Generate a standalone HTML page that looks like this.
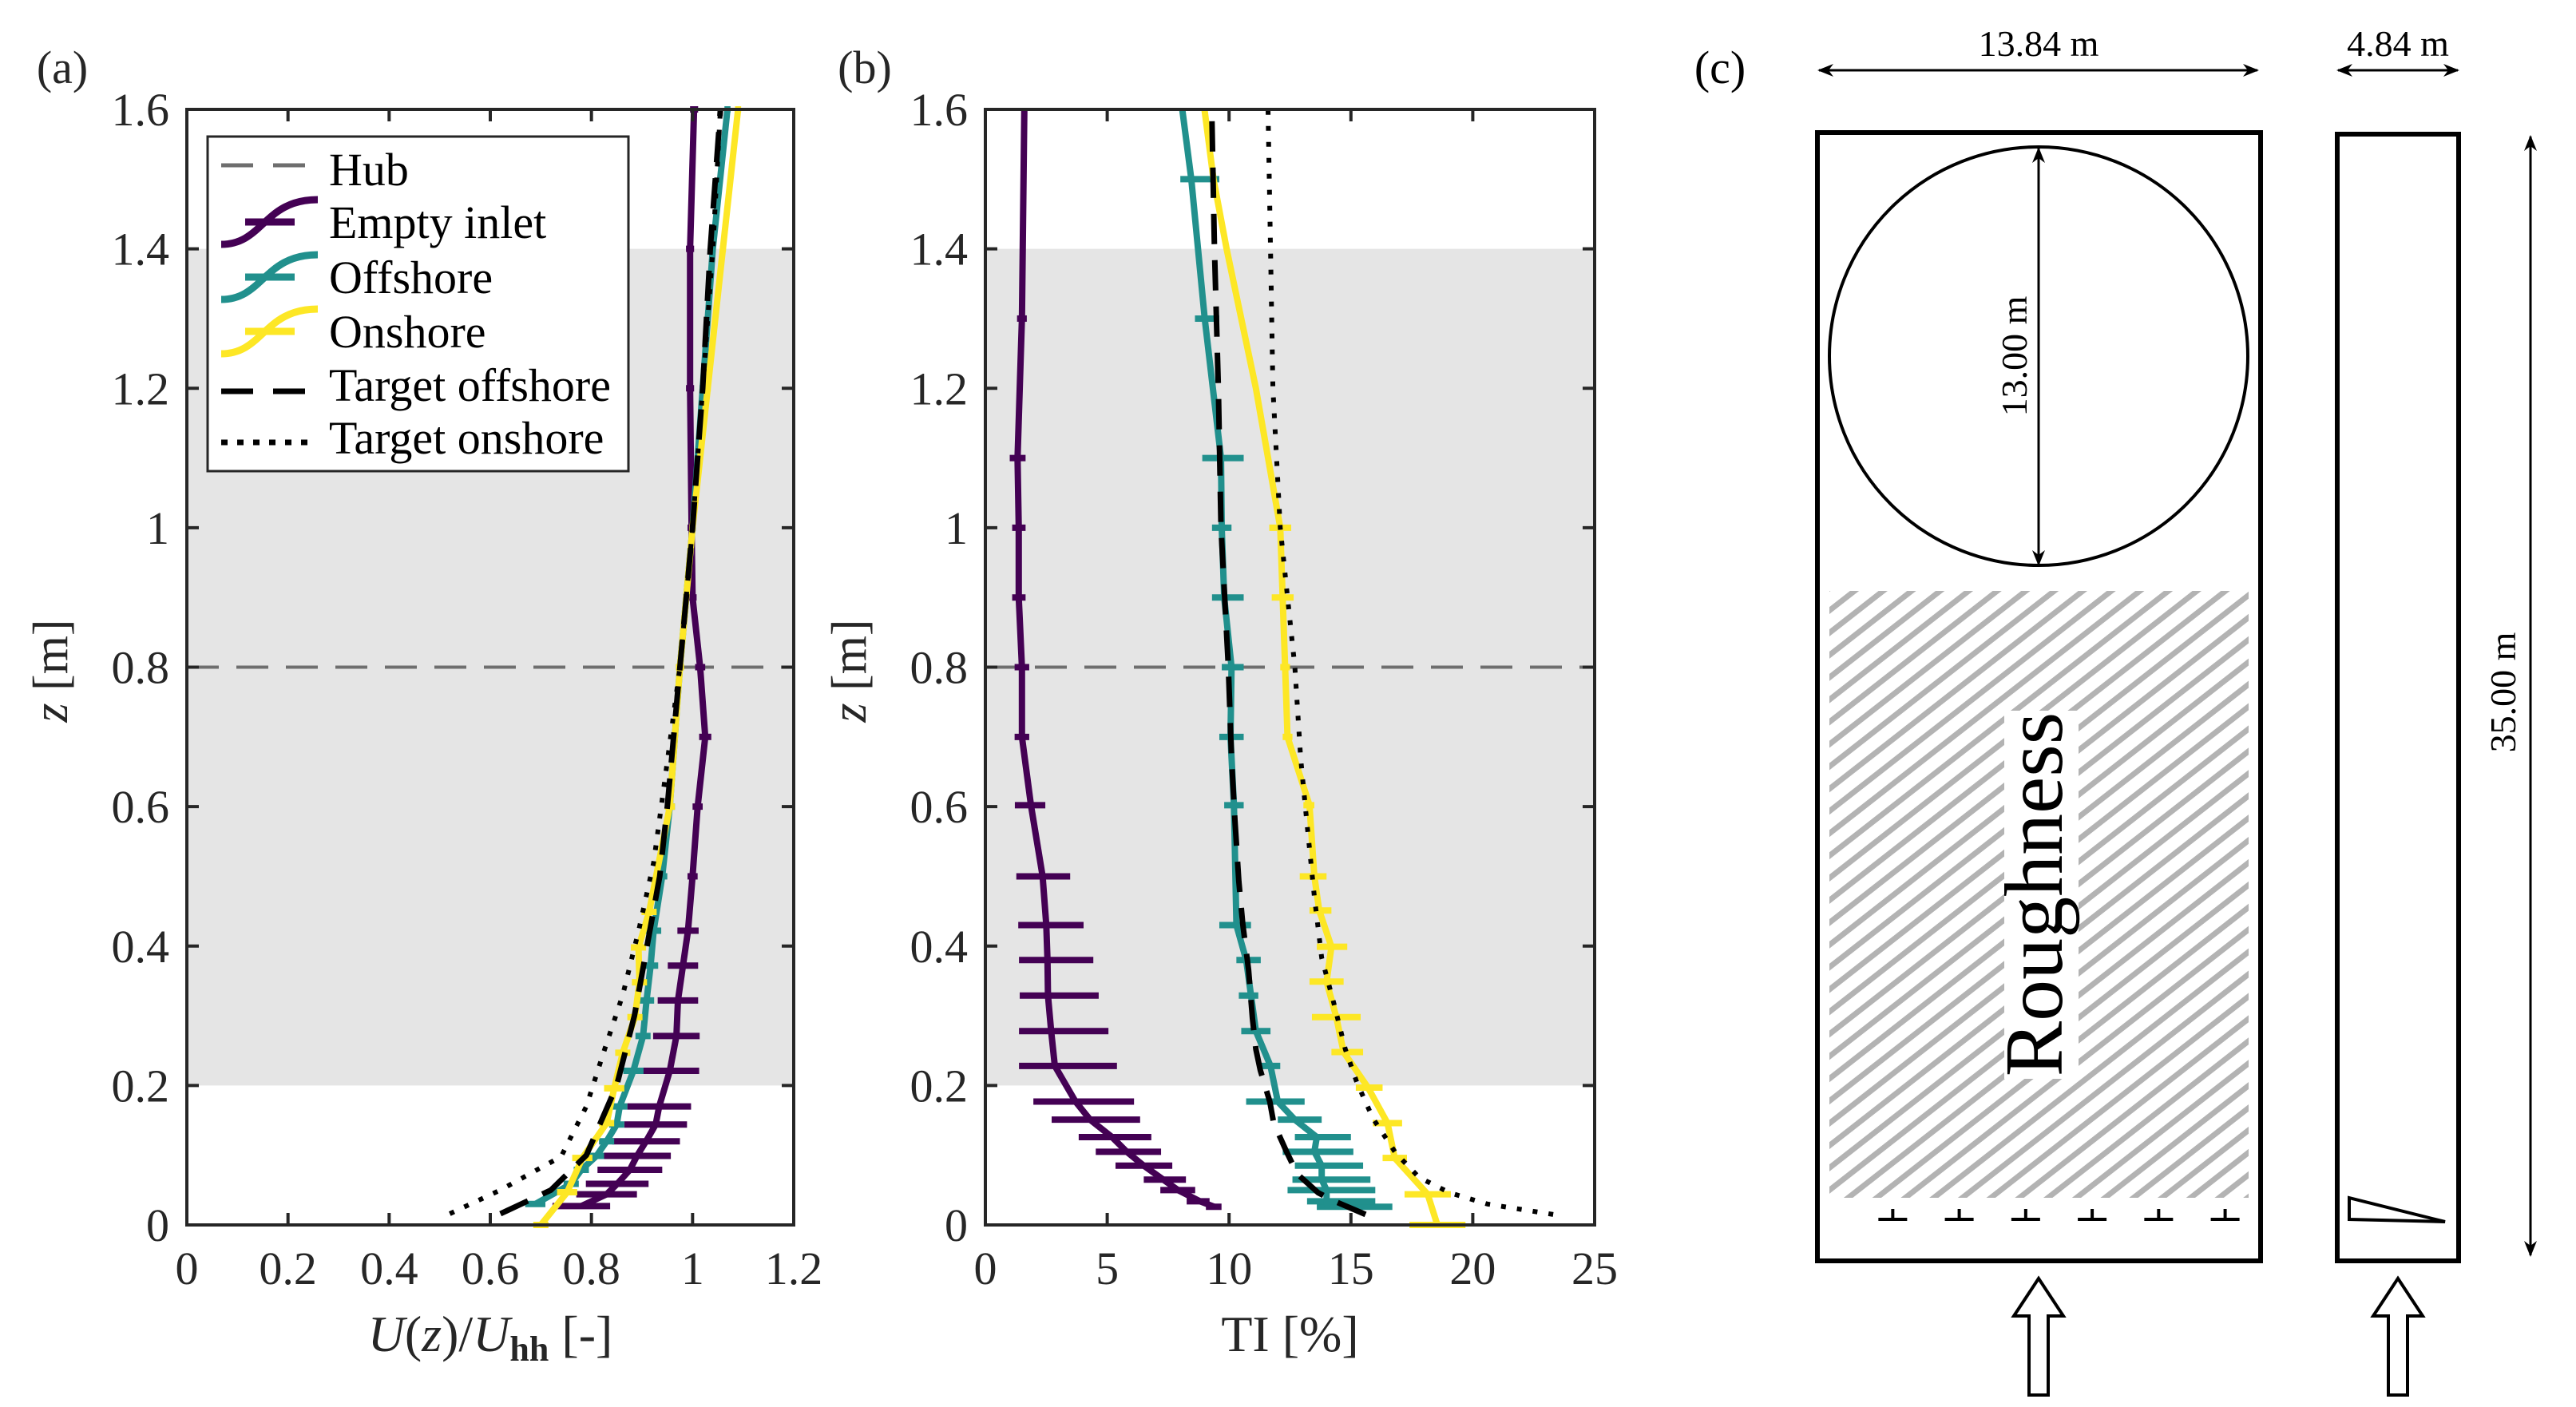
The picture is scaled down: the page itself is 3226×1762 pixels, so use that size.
<!DOCTYPE html>
<html><head><meta charset="utf-8"><style>
html,body{margin:0;padding:0;background:#fff;}
svg, svg text{font-family:"Liberation Serif","DejaVu Serif",serif;}
</style></head><body>
<svg id="fig" width="3226" height="1757" viewBox="0 0 3226 1757" xmlns="http://www.w3.org/2000/svg" font-family="Liberation Serif, DejaVu Serif, serif">
<defs>
<pattern id="hatch" patternUnits="userSpaceOnUse" width="22" height="22" patternTransform="rotate(-38)">
<rect x="0" y="0" width="22" height="22" fill="#fff"/>
<line x1="0" y1="11" x2="22" y2="11" stroke="#b3b3b3" stroke-width="7"/>
</pattern>
<marker id="ah" viewBox="0 0 20 20" refX="18" refY="10" markerWidth="20" markerHeight="20" markerUnits="userSpaceOnUse" orient="auto-start-reverse">
<path d="M0,2 L20,10 L0,18 L6,10 Z" fill="#000"/>
</marker>
</defs>
<g id="pa"></g>
<g id="pb"></g>
<g id="pc">
<text x="2154" y="104" font-size="58" text-anchor="middle">(c)</text>
<line x1="2278" y1="88" x2="2827" y2="88" stroke="#000" stroke-width="3" marker-start="url(#ah)" marker-end="url(#ah)"/>
<text x="2553" y="70" font-size="46" text-anchor="middle">13.84 m</text>
<line x1="2928" y1="88" x2="3078" y2="88" stroke="#000" stroke-width="3" marker-start="url(#ah)" marker-end="url(#ah)"/>
<text x="3003" y="70" font-size="46" text-anchor="middle">4.84 m</text>
<rect x="2276" y="166" width="555" height="1413" fill="#fff" stroke="#000" stroke-width="6"/>
<rect x="2291" y="740" width="525" height="760" fill="url(#hatch)"/>
<rect x="2510" y="890" width="93" height="461" fill="#fff"/>
<text transform="translate(2582,1120) rotate(-90)" font-size="104" text-anchor="middle">Roughness</text>
<circle cx="2553" cy="446" r="262" fill="none" stroke="#000" stroke-width="4"/>
<line x1="2553" y1="186" x2="2553" y2="707" stroke="#000" stroke-width="3" marker-start="url(#ah)" marker-end="url(#ah)"/>
<text transform="translate(2538,446) rotate(-90)" font-size="46" text-anchor="middle">13.00 m</text>
<g id="spires"></g>
<path d="M2541,1747 L2541,1648 L2522,1648 L2553,1601 L2584,1648 L2565,1648 L2565,1747 Z" fill="#fff" stroke="#000" stroke-width="4"/>
<rect x="2927" y="168" width="152" height="1411" fill="#fff" stroke="#000" stroke-width="6"/>
<path d="M2942,1500 L2942,1527 L3062,1530 Z" fill="#fff" stroke="#000" stroke-width="4"/>
<path d="M2991,1747 L2991,1648 L2972,1648 L3003,1601 L3034,1648 L3015,1648 L3015,1747 Z" fill="#fff" stroke="#000" stroke-width="4"/>
<line x1="3169" y1="171" x2="3169" y2="1572" stroke="#000" stroke-width="3" marker-start="url(#ah)" marker-end="url(#ah)"/>
<text transform="translate(3150,867) rotate(-90)" font-size="46" text-anchor="middle">35.00 m</text>
</g>
</svg>
<script>
// ---------- Panel (a) data: U(z)/U_hh ----------
const emptyUz = [0.027,0.044,0.059,0.079,0.099,0.120,0.144,0.170,0.221,0.271,0.322,0.372,0.422,0.5,0.6,0.7,0.8,0.9,1.0,1.2,1.4,1.6];
const emptyU  = [0.78,0.83,0.851,0.876,0.89,0.908,0.927,0.934,0.955,0.968,0.971,0.981,0.991,1.0,1.01,1.025,1.015,1.0,0.998,0.995,0.995,1.003];
const emptyUerr=[0.057,0.06,0.062,0.064,0.067,0.067,0.062,0.063,0.058,0.046,0.04,0.03,0.021,0.01,0.01,0.012,0.01,0.008,0.008,0.008,0.008,0.008];
const offUz = [0.03,0.059,0.079,0.099,0.120,0.144,0.170,0.221,0.271,0.322,0.372,0.422,0.5,0.6,0.8,1.0,1.2,1.4,1.6];
const offU  = [0.689,0.76,0.78,0.81,0.83,0.85,0.856,0.883,0.902,0.909,0.917,0.923,0.94,0.955,0.975,1.0,1.02,1.04,1.069];
const offUerr=[0.02,0.015,0.015,0.015,0.015,0.015,0.015,0.02,0.015,0.015,0.015,0.015,0.01,0.01,0.008,0.006,0.006,0.006,0.006];
const onUz = [0.0,0.047,0.096,0.146,0.196,0.247,0.298,0.348,0.398,0.449,0.6,0.8,1.0,1.2,1.4,1.6];
const onU  = [0.70,0.752,0.782,0.83,0.845,0.862,0.886,0.895,0.893,0.914,0.955,0.975,1.0,1.03,1.06,1.09];
const onUerr=[0.015,0.02,0.02,0.015,0.02,0.015,0.015,0.015,0.015,0.015,0.01,0.008,0.006,0.006,0.006,0.006];
const tgtOffUz = [0.016,0.05,0.1,0.2,0.3,0.4,0.5,0.6,0.8,1.0,1.2,1.4,1.6];
const tgtOffU  = [0.62,0.72,0.79,0.85,0.885,0.91,0.935,0.95,0.975,1.0,1.02,1.035,1.055];
const tgtOnUz = [0.016,0.05,0.098,0.17,0.245,0.33,0.424,0.52,0.61,0.8,1.0,1.2,1.4,1.6];
const tgtOnU  = [0.52,0.62,0.74,0.79,0.823,0.862,0.894,0.923,0.94,0.975,1.0,1.02,1.04,1.055];
const xTicksA = [0,0.2,0.4,0.6,0.8,1,1.2];
const xTickLabelsA = ["0","0.2","0.4","0.6","0.8","1","1.2"];
const yTicks = [0,0.2,0.4,0.6,0.8,1,1.2,1.4,1.6];
const yTickLabels = ["0","0.2","0.4","0.6","0.8","1","1.2","1.4","1.6"];
// ---------- Panel (b) data: TI [%] ----------
const emptyTz = [0.026,0.034,0.05,0.065,0.085,0.105,0.126,0.151,0.177,0.228,0.278,0.329,0.38,0.43,0.5,0.602,0.7,0.8,0.9,1.0,1.1,1.3,1.6];
const emptyT  = [9.4,8.8,7.9,7.3,6.5,5.8,5.2,4.3,3.7,2.85,2.7,2.57,2.55,2.5,2.35,1.87,1.5,1.5,1.37,1.37,1.32,1.5,1.6];
const emptyTlo= [9.05,8.26,7.18,6.5,5.34,4.53,3.83,2.72,1.97,1.38,1.38,1.41,1.38,1.35,1.27,1.21,1.2,1.2,1.1,1.1,1.0,1.3,1.6];
const emptyThi= [9.69,9.2,8.61,8.23,7.67,7.21,6.81,6.35,6.1,5.4,5.05,4.65,4.43,4.03,3.48,2.46,1.8,1.8,1.65,1.65,1.65,1.7,1.6];
const offTz = [0.026,0.034,0.05,0.065,0.085,0.105,0.126,0.151,0.177,0.228,0.278,0.329,0.38,0.43,0.602,0.7,0.8,0.9,1.0,1.1,1.3,1.5,1.6];
const offT  = [14.05,14.0,14.0,13.8,13.8,13.5,13.6,12.7,12.0,11.7,11.1,10.9,10.7,10.3,10.2,10.06,10.1,9.8,9.7,9.67,9.0,8.45,8.08];
const offTlo= [13.6,13.2,12.4,12.6,12.7,12.2,12.7,12.0,10.7,11.2,10.5,10.4,10.3,9.6,9.8,9.6,9.7,9.3,9.3,8.9,8.6,8.0,8.08];
const offThi= [16.7,16.0,16.0,15.8,15.5,15.1,15.0,13.8,13.1,12.1,11.7,11.2,11.3,10.9,10.6,10.6,10.6,10.6,10.1,10.6,9.6,9.6,8.08];
const onTz = [0.0,0.044,0.096,0.146,0.197,0.248,0.298,0.349,0.399,0.451,0.5,0.602,0.7,0.8,0.9,1.0,1.2,1.4,1.5,1.6];
const onT  = [18.55,18.15,16.8,16.5,15.7,14.7,14.4,14.0,14.2,13.7,13.5,13.3,12.4,12.3,12.2,12.1,11.1,9.9,9.36,8.99];
const onTlo= [17.4,17.2,16.3,15.9,15.2,14.2,13.4,13.3,13.6,13.3,12.9,13.05,12.2,12.1,11.75,11.65,11.1,9.9,9.36,8.99];
const onThi= [19.7,19.1,17.3,17.1,16.3,15.5,15.4,14.7,14.85,14.2,14.0,13.5,12.6,12.5,12.65,12.55,11.1,9.9,9.36,8.99];
const tgtOffTz = [0.015,0.033,0.046,0.073,0.105,0.146,0.177,0.222,0.252,0.296,0.366,0.432,0.493,0.581,0.669,0.8,1.0,1.2,1.4,1.6];
const tgtOffT  = [15.6,14.4,13.66,12.8,12.36,11.83,11.67,11.28,11.1,10.96,10.8,10.56,10.4,10.24,10.1,9.97,9.67,9.56,9.4,9.29];
const tgtOnTz = [0.015,0.03,0.046,0.068,0.103,0.153,0.204,0.252,0.318,0.383,0.471,0.581,0.669,0.8,1.0,1.2,1.4,1.6];
const tgtOnT  = [23.3,20.6,19.06,17.8,16.84,15.9,15.25,14.77,14.3,13.8,13.5,13.18,12.94,12.7,12.1,11.8,11.7,11.6];
const xTicksB = [0,5,10,15,20,25];
const xTickLabelsB = ["0","5","10","15","20","25"];
const shadeRange = [0.2,1.4];
const hubZ = [0.8];
const spireX = [0.17,0.32,0.47,0.62,0.77,0.92];

const NS="http://www.w3.org/2000/svg";
const FONT="Liberation Serif, DejaVu Serif, serif";
const C={purple:"#440154",teal:"#21908d",yellow:"#fde725",axis:"#262626"};
function mk(parent,tag,attrs){const e=document.createElementNS(NS,tag);for(const k in attrs)e.setAttribute(k,attrs[k]);if(tag==='text')e.setAttribute('font-family',FONT);parent.appendChild(e);return e;}
const Y0=1534,Y1=137;
function yScale(z){return Y0-(z/1.6)*(Y0-Y1);}
function makeX(x0,x1,max){return v=>x0+(v/max)*(x1-x0);}

function axes(g,x0,x1){
  const bg=mk(g,'rect',{x:x0,y:Y1,width:x1-x0,height:Y0-Y1,fill:'#fff'});
  
  const sh=mk(g,'rect',{x:x0,y:yScale(shadeRange[1]),width:x1-x0,height:yScale(shadeRange[0])-yScale(shadeRange[1]),fill:'#e5e5e5'});
  
  const hub=mk(g,'line',{x1:x0,x2:x1,y1:yScale(hubZ[0]),y2:yScale(hubZ[0]),stroke:'#6e6e6e','stroke-width':4,'stroke-dasharray':'40 22'});
  
}
function frame(g,x0,x1,xs,ticks,labels,panelTxt,panelX,isA){
  const fr=mk(g,'rect',{x:x0,y:Y1,width:x1-x0,height:Y0-Y1,fill:'none',stroke:C.axis,'stroke-width':4});
  
  ticks.forEach((t,i)=>{const x=xs(t);
    const a=mk(g,'line',{x1:x,x2:x,y1:Y0,y2:Y0-15,stroke:C.axis,'stroke-width':4});
    const b=mk(g,'line',{x1:x,x2:x,y1:Y1,y2:Y1+15,stroke:C.axis,'stroke-width':4});
    const tx=mk(g,'text',{x:x,y:1608,'font-size':58,'text-anchor':'middle',fill:C.axis});tx.textContent=labels[i];
    });
  yTicks.forEach((t,i)=>{const y=yScale(t);
    const a=mk(g,'line',{x1:x0,x2:x0+15,y1:y,y2:y,stroke:C.axis,'stroke-width':4});
    const b=mk(g,'line',{x1:x1,x2:x1-15,y1:y,y2:y,stroke:C.axis,'stroke-width':4});
    const tx=mk(g,'text',{x:x0-22,y:y+20,'font-size':58,'text-anchor':'end',fill:C.axis});tx.textContent=yTickLabels[i];
    });
  const yl=mk(g,'text',{transform:`translate(${x0-150},840) rotate(-90)`,'font-size':62,'text-anchor':'middle',fill:C.axis});
  yl.innerHTML='<tspan font-style="italic">z</tspan> [m]';
  
  const xl=mk(g,'text',{x:(x0+x1)/2,y:1692,'font-size':64,'text-anchor':'middle',fill:C.axis});
  if(isA){xl.innerHTML='<tspan font-style="italic">U</tspan>(<tspan font-style="italic">z</tspan>)/<tspan font-style="italic">U</tspan><tspan font-size="44" dy="12" font-weight="bold">hh</tspan><tspan dy="-12"> [-]</tspan>';}
  else xl.textContent='TI [%]';
  
  const pl=mk(g,'text',{x:panelX,y:104,'font-size':58,'text-anchor':'middle',fill:C.axis});pl.textContent=panelTxt;
  
}
function line(g,xs,vals,zs,color,w,dash,name){
  const d=vals.map((v,i)=>(i?'L':'M')+xs(v).toFixed(1)+','+yScale(zs[i]).toFixed(1)).join(' ');
  const p=mk(g,'path',{d:d,fill:'none',stroke:color,'stroke-width':w,'stroke-linejoin':'round'});
  if(dash){p.setAttribute('stroke-dasharray',dash);}
  
}
function ebars(g,xs,lo,hi,zs,color,name){
  zs.forEach((z,i)=>{const y=yScale(z);
    const e=mk(g,'line',{x1:xs(lo[i]),x2:xs(hi[i]),y1:y,y2:y,stroke:color,'stroke-width':8});
    });
}
function symLo(v,e){return v.map((x,i)=>x-e[i]);}
function symHi(v,e){return v.map((x,i)=>x+e[i]);}

// Panel A
const ga=document.getElementById('pa');
const xa=makeX(234,994,1.2);
axes(ga,234,994);
ebars(ga,xa,symLo(emptyU,emptyUerr),symHi(emptyU,emptyUerr),emptyUz,C.purple,'empty-inlet-error-bar');
line(ga,xa,emptyU,emptyUz,C.purple,8,null,'empty-inlet-line');
ebars(ga,xa,symLo(offU,offUerr),symHi(offU,offUerr),offUz,C.teal,'offshore-error-bar');
line(ga,xa,offU,offUz,C.teal,8,null,'offshore-line');
ebars(ga,xa,symLo(onU,onUerr),symHi(onU,onUerr),onUz,C.yellow,'onshore-error-bar');
line(ga,xa,onU,onUz,C.yellow,8,null,'onshore-line');
line(ga,xa,tgtOffU,tgtOffUz,'#000',7,'38 20','target-offshore-line');
line(ga,xa,tgtOnU,tgtOnUz,'#000',6,'6 14','target-onshore-line');
frame(ga,234,994,xa,xTicksA,xTickLabelsA,'(a)',78,true);
// legend
const lg=mk(ga,'g',{});
const lb=mk(lg,'rect',{x:260,y:171,width:527,height:419,fill:'#fff',stroke:C.axis,'stroke-width':3});

const legNames=['Hub','Empty inlet','Offshore','Onshore','Target offshore','Target onshore'];
const legRows=[212,278,347,415,482,548];
const legCol=['#6e6e6e',C.purple,C.teal,C.yellow,'#000','#000'];
legNames.forEach((n,i)=>{const y=legRows[i];
  const ent=mk(lg,'g',{});
  let s;
  if(i===0) s=mk(ent,'line',{x1:277,x2:383,y1:y-5,y2:y-5,stroke:legCol[i],'stroke-width':5,'stroke-dasharray':'40 25'});
  else if(i===4) s=mk(ent,'line',{x1:277,x2:383,y1:y+8,y2:y+8,stroke:'#000','stroke-width':7,'stroke-dasharray':'40 25'});
  else if(i===5) s=mk(ent,'line',{x1:277,x2:396,y1:y+6,y2:y+6,stroke:'#000','stroke-width':7,'stroke-dasharray':'8 12'});
  else { s=mk(ent,'path',{d:`M277,${y+28} C330,${y+28} 330,${y-28} 398,${y-28} M307,${y} L369,${y}`,fill:'none',stroke:legCol[i],'stroke-width':9}); }
  
  const t=mk(ent,'text',{x:412,y:y+20,'font-size':58,fill:'#000'});t.textContent=n;
  
});

// Panel B
const gb=document.getElementById('pb');
const xb=makeX(1234,1997,25);
axes(gb,1234,1997);
ebars(gb,xb,emptyTlo,emptyThi,emptyTz,C.purple,'empty-inlet-ti-error-bar');
line(gb,xb,emptyT,emptyTz,C.purple,8,null,'empty-inlet-ti-line');
ebars(gb,xb,offTlo,offThi,offTz,C.teal,'offshore-ti-error-bar');
line(gb,xb,offT,offTz,C.teal,8,null,'offshore-ti-line');
ebars(gb,xb,onTlo,onThi,onTz,C.yellow,'onshore-ti-error-bar');
line(gb,xb,onT,onTz,C.yellow,8,null,'onshore-ti-line');
line(gb,xb,tgtOffT,tgtOffTz,'#000',7,'38 20','target-offshore-ti-line');
line(gb,xb,tgtOnT,tgtOnTz,'#000',6,'6 14','target-onshore-ti-line');
frame(gb,1234,1997,xb,xTicksB,xTickLabelsB,'(b)',1083,false);

// spires in panel C
const sp=document.getElementById('spires');
spireX.forEach(f=>{const x=2276+f*555;
  const p=mk(sp,'path',{d:`M${x-18},1527 L${x+18},1527 M${x},1527 L${x},1514`,stroke:'#000','stroke-width':4,fill:'none'});
  });
</script>
</body></html>
